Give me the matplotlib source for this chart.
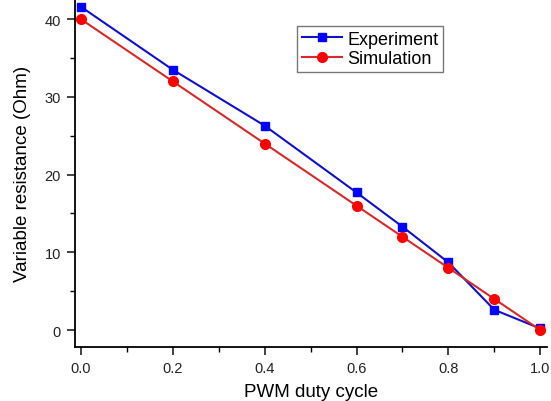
import matplotlib
matplotlib.use("Agg")
import matplotlib.pyplot as plt
from matplotlib.ticker import MultipleLocator, FormatStrFormatter

plt.rcParams['font.family'] = ['Liberation Sans', 'DejaVu Sans']

duty = [0.0, 0.2, 0.4, 0.6, 0.7, 0.8, 0.9, 1.0]
experiment = [41.6, 33.5, 26.3, 17.7, 13.3, 8.7, 2.6, 0.2]
simulation = [40.0, 32.0, 24.0, 16.0, 12.0, 8.0, 4.0, 0.0]

fig = plt.figure(figsize=(5.51, 4.02), dpi=100)
ax = fig.add_axes([0.136, 0.134, 0.857, 0.866])

ax.plot(duty, experiment, color='#1010c8', lw=1.5, marker='s', ms=6,
        mfc='#0000ff', mec='#0000ff', label='Experiment', clip_on=False, zorder=3)
ax.plot(duty, simulation, color='#d42a2a', lw=1.5, marker='o', ms=7,
        mfc='#ff0000', mec='#ff0000', label='Simulation', clip_on=False, zorder=3)

ax.set_xlim(-0.013, 1.015)
ax.set_ylim(-2.2, 42.6)
ax.xaxis.set_major_locator(MultipleLocator(0.2))
ax.xaxis.set_minor_locator(MultipleLocator(0.1))
ax.yaxis.set_major_locator(MultipleLocator(10))
ax.yaxis.set_minor_locator(MultipleLocator(5))
ax.xaxis.set_major_formatter(FormatStrFormatter('%.1f'))

for s in ('top', 'right'):
    ax.spines[s].set_visible(False)
for s in ('left', 'bottom'):
    ax.spines[s].set_linewidth(1.3)
ax.tick_params(which='major', direction='out', length=6, width=1.2, labelsize=10.5,
               colors='#222222', pad=4)
ax.tick_params(which='minor', direction='out', length=3.5, width=1.0)

ax.set_xlabel('PWM duty cycle', fontsize=13.5, labelpad=6)
ax.set_ylabel('Variable resistance (Ohm)', fontsize=13.5, labelpad=10)

leg = ax.legend(loc='upper left', bbox_to_anchor=(0.452, 0.948), fontsize=13,
                frameon=True, fancybox=False, edgecolor='#555555',
                handlelength=2.2, handletextpad=0.3, borderpad=0.25, labelspacing=0.15)
leg.get_frame().set_linewidth(1.0)

fig.savefig('out.png', dpi=100)
